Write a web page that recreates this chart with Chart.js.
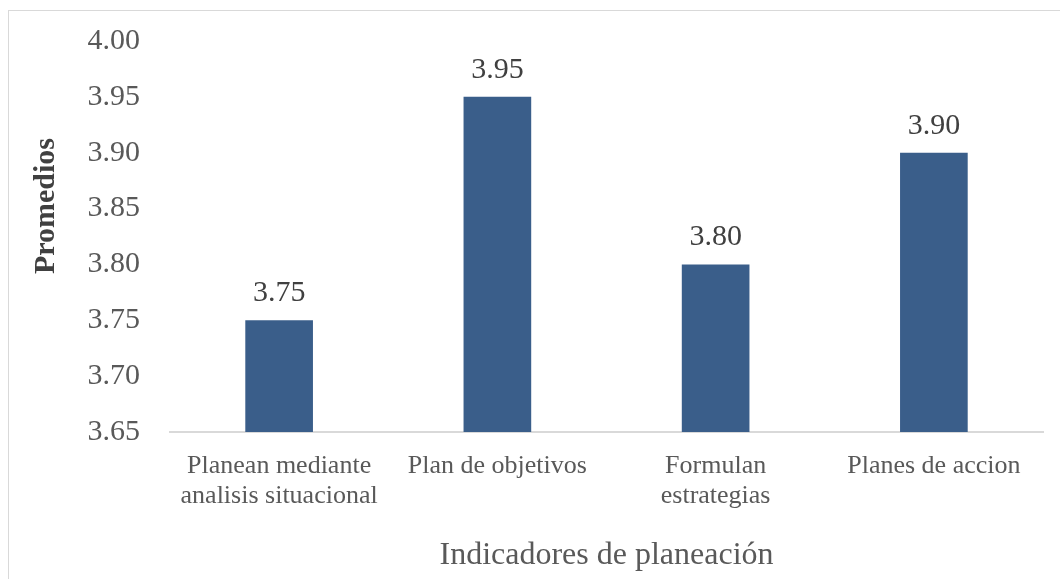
<!DOCTYPE html>
<html>
<head>
<meta charset="utf-8">
<script src="https://cdn.jsdelivr.net/npm/chart.js@4/dist/chart.umd.min.js"></script>
<style>
  html, body { margin: 0; padding: 0; background: #fff; overflow: hidden; }
  #wrap { position: relative; width: 1060px; height: 579px; }
  #frame { position: absolute; left: 8px; top: 10px; width: 1070px; height: 600px; border: 1px solid #d9d9d9; pointer-events: none; }
</style>
</head>
<body>
<div id="wrap">
  <canvas id="chart" width="1060" height="579"></canvas>
  <div id="frame"></div>
</div>
<script>
var categories = [
  ['Planean mediante', 'analisis situacional'],
  'Plan de objetivos',
  ['Formulan', 'estrategias'],
  'Planes de accion'
];
var promedios = [3.75, 3.95, 3.80, 3.90];
var yMin = 3.65, yMax = 4.00, yStep = 0.05;

var serif = '"Liberation Serif", "Times New Roman", serif';

// value labels above each bar
var barLabels = {
  id: 'barLabels',
  afterDatasetsDraw: function(chart) {
    var ctx = chart.ctx;
    var meta = chart.getDatasetMeta(0);
    ctx.save();
    ctx.font = '30px ' + serif;
    ctx.fillStyle = '#404040';
    ctx.textAlign = 'center';
    ctx.textBaseline = 'alphabetic';
    meta.data.forEach(function(bar, i) {
      ctx.fillText(promedios[i].toFixed(2), bar.x, bar.y - 19);
    });
    ctx.restore();
  }
};

// rotated y title
var yTitle = {
  id: 'yTitle',
  afterDraw: function(chart) {
    var ctx = chart.ctx;
    ctx.save();
    ctx.translate(46, 206);
    ctx.rotate(-Math.PI / 2);
    ctx.font = 'bold 30px ' + serif;
    ctx.fillStyle = '#404040';
    ctx.textAlign = 'center';
    ctx.textBaseline = 'middle';
    ctx.fillText('Promedios', 0, 0);
    ctx.restore();
  }
};

new Chart(document.getElementById('chart'), {
  type: 'bar',
  data: {
    labels: categories,
    datasets: [{
      data: promedios,
      backgroundColor: '#3A5E8A',
      barPercentage: 0.31,
      categoryPercentage: 1
    }]
  },
  options: {
    responsive: false,
    animation: false,
    layout: { padding: { left: 0, right: 17, top: 41, bottom: 4 } },
    plugins: {
      legend: { display: false },
      tooltip: { enabled: false }
    },
    scales: {
      x: {
        grid: { display: false },
        border: { display: true, color: '#d9d9d9', width: 2 },
        ticks: {
          color: '#595959',
          font: { family: serif, size: 26, lineHeight: 1.15 },
          padding: 11,
          maxRotation: 0,
          autoSkip: false
        },
        title: {
          display: true,
          text: 'Indicadores de planeación',
          color: '#595959',
          font: { family: serif, size: 32 },
          padding: { top: 0, bottom: 0 }
        },
        afterFit: function(scale) { scale.height = 143; }
      },
      y: {
        min: yMin,
        max: yMax,
        grid: { display: false, drawTicks: false },
        border: { display: false },
        ticks: {
          stepSize: yStep,
          color: '#595959',
          font: { family: serif, size: 30 },
          padding: 30,
          callback: function(v) { return v.toFixed(2); }
        },
        afterFit: function(scale) {
          scale.width = 170;
          // tick padding should not push the plot area down
          scale.paddingTop = 0;
          scale.paddingBottom = 0;
        }
      }
    }
  },
  plugins: [barLabels, yTitle]
});
</script>
</body>
</html>
